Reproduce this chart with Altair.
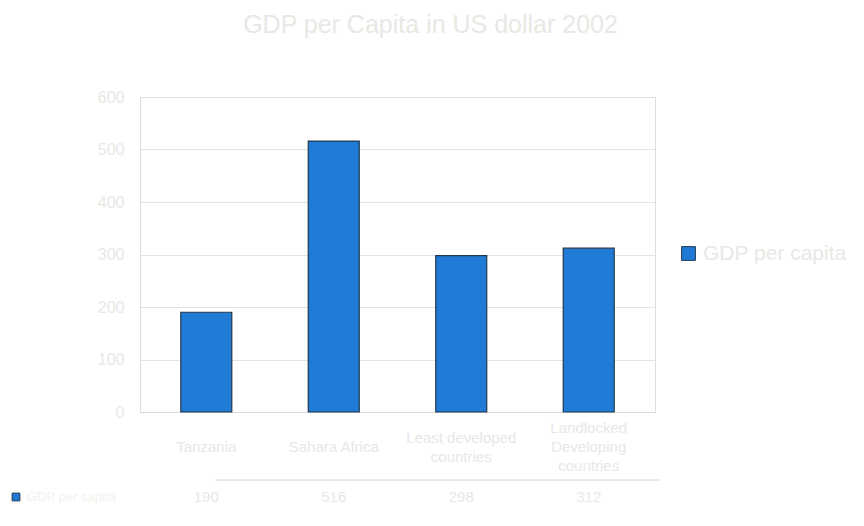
import altair as alt
import pandas as pd

categories = ["Tanzania", "Sahara Africa", "Least developed|countries", "Landlocked|Developing|countries"]
values = [190, 516, 298, 312]
value_labels = ["190", "516", "298", "312"]
series = "GDP per capita"
title = "GDP per Capita in US dollar 2002"

df = pd.DataFrame({"cat": categories, "val": values, "lab": value_labels, "series": [series] * 4})

TXT = "#e8e8e4"
FONT = "Liberation Sans"

x_enc = alt.X("cat:N", sort=categories,
              scale=alt.Scale(paddingInner=0.6, paddingOuter=0.32),
              axis=alt.Axis(title=None, labels=False, ticks=False, domainColor="#dcdcdc"))

bars = alt.Chart(df).mark_bar(stroke="#22384f", strokeWidth=1.2).encode(
    x=x_enc,
    y=alt.Y("val:Q", scale=alt.Scale(domain=[0, 600]),
            axis=alt.Axis(title=None, values=[0, 100, 200, 300, 400, 500, 600],
                          gridColor="#e2e2e2", domain=False, ticks=False,
                          labelColor=TXT, labelFontSize=16, labelFont=FONT, labelPadding=16)),
    color=alt.Color("series:N", scale=alt.Scale(range=["#1f7bd6"]),
                    legend=alt.Legend(title=None, orient="none", legendX=538, legendY=146,
                                      symbolType="square", symbolSize=190,
                                      symbolStrokeColor="#22384f", symbolStrokeWidth=1,
                                      labelColor=TXT, labelFontSize=21, labelFont=FONT)),
)

# category labels, vertically centred as in the original
cat_labels = alt.Chart(df).transform_calculate(
    off="(3 - length(split(datum.cat, '|'))) * 9.5"
).mark_text(color=TXT, fontSize=15, font=FONT, baseline="middle", lineBreak="|",
            lineHeight=19).encode(
    x=alt.X("cat:N", sort=categories),
    y=alt.value(331),
    yOffset=alt.YOffset("off:Q", scale=None),
    text="cat:N",
)

table_vals = alt.Chart(df).mark_text(color=TXT, fontSize=15, font=FONT, baseline="middle").encode(
    x=alt.X("cat:N", sort=categories),
    y=alt.value(400),
    text="lab:N",
)

table_line = alt.Chart(df).mark_rule(color="#e8e8e8").encode(
    x=alt.value(75), x2=alt.value(520), y=alt.value(383)
)

key_df = pd.DataFrame({"series": [series]})
table_key = alt.Chart(key_df).mark_square(size=60, stroke="#22384f", strokeWidth=1, opacity=1).encode(
    x=alt.value(-124), y=alt.value(400), color=alt.Color("series:N", legend=None)
)
table_key_text = alt.Chart(key_df).mark_text(color="#f2f2ee", fontSize=13, font=FONT, align="left",
                                             baseline="middle").encode(
    x=alt.value(-113), y=alt.value(400), text="series:N"
)

chart = alt.layer(bars, cat_labels, table_line, table_vals, table_key, table_key_text).properties(
    width=515, height=315,
    autosize=alt.AutoSizeParams(type="none"),
    padding={"left": 140, "top": 97, "right": 209, "bottom": 114},
    title=alt.TitleParams(title, offset=51, dx=33, fontSize=25, color=TXT, font=FONT, fontWeight="normal"),
).configure_view(stroke="#ececec").configure(background="white")

chart.save("out.html", embed_options={"renderer": "svg", "actions": False})
